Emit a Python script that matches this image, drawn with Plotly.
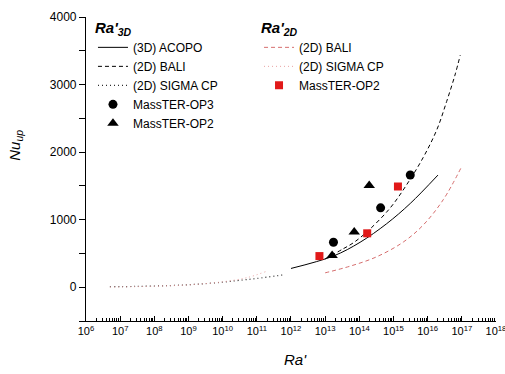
import plotly.graph_objects as go

# ---- data ----
acopo_x = [1e12, 1.75e13, 1.05e14, 6.3e14, 3.1e15, 2e16]
acopo_y = [278, 462, 665, 940, 1240, 1660]

bali3_x = [1e13, 3.4e13, 6.8e13, 1.85e14, 7.9e14, 2.45e15, 7.4e15, 1.85e16, 3.6e16, 6.3e16, 9e16]
bali3_y = [420, 570, 660, 840, 1170, 1520, 1920, 2330, 2750, 3140, 3435]

sigma3_x = [5e6, 3e7, 3e8, 1.8e9, 1e10, 2.9e10, 1e11, 6e11]
sigma3_y = [7, 12, 25, 45, 75, 100, 130, 183]

bali2_x = [1e13, 5.4e13, 3.2e14, 1.95e15, 7.4e15, 2.9e16, 1e17]
bali2_y = [213, 312, 450, 670, 920, 1300, 1790]

sigma2_x = [5e6, 1e8, 1e9, 1e10, 5e10, 1.8e11]
sigma2_y = [2, 15, 35, 80, 140, 230]

op3_x = [1.75e13, 4.2e14, 3.1e15]
op3_y = [665, 1175, 1661]

op2_x = [1.6e13, 7.1e13, 1.95e14]
op2_y = [471, 818, 1506]

op2r_x = [6.8e12, 1.7e14, 1.35e15]
op2r_y = [461, 798, 1491]

x_exponents = list(range(6, 19))
x_tickvals = [10 ** e for e in x_exponents]
x_ticktext = ["10<sup>%d</sup>" % e for e in x_exponents]
y_tickvals = [0, 1000, 2000, 3000, 4000]

FONT = "Liberation Sans, Arial, sans-serif"
RED_LINE = "rgb(214,110,110)"
RED_DOT = "rgb(232,160,160)"
DASH = "4px,3px"
DOT = "1px,3px"

fig = go.Figure()

# legend 1 (3D)
fig.add_trace(go.Scatter(x=acopo_x, y=acopo_y, mode="lines", name="(3D) ACOPO",
                         line=dict(color="black", width=1, shape="spline"), legend="legend"))
fig.add_trace(go.Scatter(x=bali3_x, y=bali3_y, mode="lines", name="(2D) BALI",
                         line=dict(color="black", width=1, dash=DASH, shape="spline"), legend="legend"))
fig.add_trace(go.Scatter(x=sigma3_x, y=sigma3_y, mode="lines", name="(2D) SIGMA CP",
                         line=dict(color="rgb(40,40,40)", width=1.2, dash=DOT, shape="spline"), legend="legend"))
fig.add_trace(go.Scatter(x=op3_x, y=op3_y, mode="markers", name="MassTER-OP3",
                         marker=dict(symbol="circle", size=9, color="black"), legend="legend"))
fig.add_trace(go.Scatter(x=op2_x, y=op2_y, mode="markers", name="MassTER-OP2",
                         marker=dict(symbol="triangle-up", size=10, color="black"), legend="legend"))

# legend 2 (2D)
fig.add_trace(go.Scatter(x=bali2_x, y=bali2_y, mode="lines", name="(2D) BALI",
                         line=dict(color=RED_LINE, width=1, dash=DASH, shape="spline"), legend="legend2"))
fig.add_trace(go.Scatter(x=sigma2_x, y=sigma2_y, mode="lines", name="(2D) SIGMA CP",
                         line=dict(color=RED_DOT, width=1, dash=DOT, shape="spline"), legend="legend2"))
fig.add_trace(go.Scatter(x=op2r_x, y=op2r_y, mode="markers", name="MassTER-OP2",
                         marker=dict(symbol="square", size=8, color="rgb(225,25,25)"), legend="legend2"))

legend_common = dict(
    bgcolor="rgba(0,0,0,0)", borderwidth=0,
    font=dict(family=FONT, size=12, color="black"),
    xanchor="left", yanchor="top", itemwidth=30, tracegroupgap=0,
)

fig.update_layout(
    width=505, height=374,
    margin=dict(l=86, r=9, t=17, b=53, pad=0, autoexpand=False),
    paper_bgcolor="white", plot_bgcolor="white",
    font=dict(family=FONT, size=12, color="black"),
    legend=dict(**legend_common, x=0.017, y=1.012,
                title=dict(text="<b><i>Ra'</i></b><sub><b><i>3D</i></b></sub>",
                           font=dict(family=FONT, size=15), side="top")),
    legend2=dict(**legend_common, x=0.422, y=1.012,
                 title=dict(text="<b><i>Ra'</i></b><sub><b><i>2D</i></b></sub>",
                            font=dict(family=FONT, size=15), side="top")),
    xaxis=dict(type="log", range=[6, 18.0005], showgrid=False, zeroline=False, automargin=False,
               showline=True, linecolor="black", linewidth=1.2,
               tickvals=x_tickvals, ticktext=x_ticktext, ticklabeloverflow="allow",
               ticks="inside", ticklen=5, tickcolor="black", tickwidth=1,
               tickfont=dict(family=FONT, size=11),
               minor=dict(ticks="inside", ticklen=3, dtick="D1", tickcolor="black", showgrid=False)),
    yaxis=dict(range=[-500, 4000], showgrid=False, zeroline=False, automargin=False,
               showline=True, linecolor="black", linewidth=1.2,
               tickvals=y_tickvals,
               ticks="outside", ticklen=6, tickcolor="black", tickwidth=1,
               tickfont=dict(family=FONT, size=12),
               minor=dict(ticks="outside", ticklen=6, dtick=500, tickcolor="black", showgrid=False)),
    showlegend=True,
)

fig.add_annotation(text="<i>Nu</i><sub><i>up</i></sub>", xref="paper", yref="paper",
                   x=-0.172, y=0.578, xanchor="center", yanchor="middle",
                   showarrow=False, textangle=-90,
                   font=dict(family=FONT, size=15, color="black"))
fig.add_annotation(text="<i>Ra'</i>", xref="paper", yref="paper",
                   x=0.512, y=-0.126, xanchor="center", yanchor="middle", showarrow=False,
                   font=dict(family=FONT, size=15, color="black"))

fig.write_html("out.html", config={"displayModeBar": False},
               post_script="document.body.style.margin='0px';")
